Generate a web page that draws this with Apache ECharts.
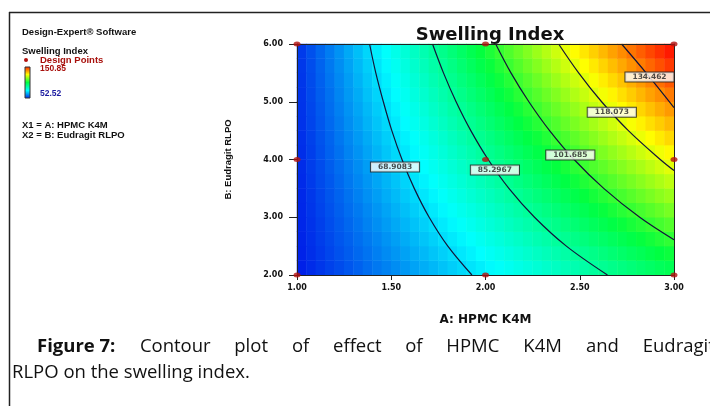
<!DOCTYPE html>
<html><head><meta charset="utf-8">
<script src="https://cdn.jsdelivr.net/npm/echarts@6/dist/echarts.min.js"></script>
<style>html,body{margin:0;padding:0;background:#fff}#c{width:710px;height:406px}</style>
</head><body><div id="c"></div>
<script>
// ---- data ----
const title = 'Swelling Index';
const xName = 'A: HPMC K4M';
const yName = 'B: Eudragit RLPO';
const legendHigh = '150.85';
const legendLow = '52.52';
const surfaceMin = 48.4;
const surfaceMax = 145.1;
// heatmap cell centres (A: HPMC K4M, B: Eudragit RLPO)
const aCenters = [1.025,1.075,1.125,1.175,1.225,1.275,1.325,1.375,1.425,1.475,1.525,1.575,1.625,1.675,1.725,1.775,1.825,1.875,1.925,1.975,
                  2.025,2.075,2.125,2.175,2.225,2.275,2.325,2.375,2.425,2.475,2.525,2.575,2.625,2.675,2.725,2.775,2.825,2.875,2.925,2.975];
const bCenters = [2.125,2.375,2.625,2.875,3.125,3.375,3.625,3.875,4.125,4.375,4.625,4.875,5.125,5.375,5.625,5.875];
// swelling index per cell, rows from B=2.125 (bottom) to B=5.875 (top)
const siRows = [
 [48.4,49.6,50.8,52.0,53.1,54.3,55.5,56.7,57.9,59.0,60.2,61.4,62.6,63.8,64.9,66.1,67.3,68.5,69.7,70.8,72.0,73.2,74.4,75.6,76.7,77.9,79.1,80.3,81.5,82.6,83.8,85.0,86.2,87.4,88.5,89.7,90.9,92.1,93.3,94.4],
 [48.6,49.9,51.1,52.4,53.7,54.9,56.2,57.4,58.7,60.0,61.2,62.5,63.8,65.0,66.3,67.5,68.8,70.1,71.3,72.6,73.9,75.1,76.4,77.6,78.9,80.2,81.4,82.7,83.9,85.2,86.5,87.7,89.0,90.3,91.5,92.8,94.0,95.3,96.6,97.8],
 [48.8,50.1,51.5,52.8,54.2,55.5,56.9,58.2,59.5,60.9,62.2,63.6,64.9,66.3,67.6,69.0,70.3,71.6,73.0,74.3,75.7,77.0,78.4,79.7,81.1,82.4,83.7,85.1,86.4,87.8,89.1,90.5,91.8,93.1,94.5,95.8,97.2,98.5,99.9,101.2],
 [49.0,50.4,51.8,53.3,54.7,56.1,57.5,59.0,60.4,61.8,63.2,64.7,66.1,67.5,68.9,70.4,71.8,73.2,74.6,76.1,77.5,78.9,80.4,81.8,83.2,84.6,86.1,87.5,88.9,90.3,91.8,93.2,94.6,96.0,97.5,98.9,100.3,101.7,103.2,104.6],
 [49.2,50.7,52.2,53.7,55.2,56.7,58.2,59.7,61.2,62.7,64.2,65.7,67.3,68.8,70.3,71.8,73.3,74.8,76.3,77.8,79.3,80.8,82.3,83.8,85.3,86.9,88.4,89.9,91.4,92.9,94.4,95.9,97.4,98.9,100.4,101.9,103.4,104.9,106.4,108.0],
 [49.3,50.9,52.5,54.1,55.7,57.3,58.9,60.5,62.1,63.7,65.2,66.8,68.4,70.0,71.6,73.2,74.8,76.4,78.0,79.5,81.1,82.7,84.3,85.9,87.5,89.1,90.7,92.3,93.9,95.4,97.0,98.6,100.2,101.8,103.4,105.0,106.6,108.2,109.8,111.3],
 [49.5,51.2,52.9,54.5,56.2,57.9,59.6,61.2,62.9,64.6,66.2,67.9,69.6,71.3,72.9,74.6,76.3,77.9,79.6,81.3,83.0,84.6,86.3,88.0,89.6,91.3,93.0,94.7,96.3,98.0,99.7,101.3,103.0,104.7,106.4,108.0,109.7,111.4,113.1,114.7],
 [49.7,51.5,53.2,55.0,56.7,58.5,60.2,62.0,63.7,65.5,67.3,69.0,70.8,72.5,74.3,76.0,77.8,79.5,81.3,83.0,84.8,86.5,88.3,90.0,91.8,93.6,95.3,97.1,98.8,100.6,102.3,104.1,105.8,107.6,109.3,111.1,112.8,114.6,116.4,118.1],
 [49.9,51.7,53.6,55.4,57.2,59.1,60.9,62.7,64.6,66.4,68.3,70.1,71.9,73.8,75.6,77.4,79.3,81.1,82.9,84.8,86.6,88.4,90.3,92.1,94.0,95.8,97.6,99.5,101.3,103.1,105.0,106.8,108.6,110.5,112.3,114.1,116.0,117.8,119.6,121.5],
 [50.1,52.0,53.9,55.8,57.8,59.7,61.6,63.5,65.4,67.3,69.3,71.2,73.1,75.0,76.9,78.8,80.8,82.7,84.6,86.5,88.4,90.4,92.3,94.2,96.1,98.0,99.9,101.9,103.8,105.7,107.6,109.5,111.4,113.4,115.3,117.2,119.1,121.0,123.0,124.9],
 [50.3,52.3,54.3,56.3,58.3,60.3,62.3,64.3,66.3,68.3,70.3,72.3,74.3,76.3,78.3,80.3,82.3,84.3,86.3,88.3,90.3,92.3,94.3,96.3,98.3,100.3,102.3,104.3,106.3,108.3,110.3,112.3,114.3,116.3,118.3,120.3,122.3,124.3,126.2,128.2],
 [50.5,52.5,54.6,56.7,58.8,60.9,62.9,65.0,67.1,69.2,71.3,73.4,75.4,77.5,79.6,81.7,83.8,85.8,87.9,90.0,92.1,94.2,96.2,98.3,100.4,102.5,104.6,106.7,108.7,110.8,112.9,115.0,117.1,119.1,121.2,123.3,125.4,127.5,129.6,131.6],
 [50.6,52.8,55.0,57.1,59.3,61.5,63.6,65.8,67.9,70.1,72.3,74.4,76.6,78.8,80.9,83.1,85.2,87.4,89.6,91.7,93.9,96.1,98.2,100.4,102.5,104.7,106.9,109.0,111.2,113.4,115.5,117.7,119.9,122.0,124.2,126.3,128.5,130.7,132.8,135.0],
 [50.8,53.1,55.3,57.6,59.8,62.0,64.3,66.5,68.8,71.0,73.3,75.5,77.8,80.0,82.3,84.5,86.7,89.0,91.2,93.5,95.7,98.0,100.2,102.5,104.7,106.9,109.2,111.4,113.7,115.9,118.2,120.4,122.7,124.9,127.2,129.4,131.6,133.9,136.1,138.4],
 [51.0,53.3,55.7,58.0,60.3,62.6,65.0,67.3,69.6,71.9,74.3,76.6,78.9,81.3,83.6,85.9,88.2,90.6,92.9,95.2,97.5,99.9,102.2,104.5,106.9,109.2,111.5,113.8,116.2,118.5,120.8,123.1,125.5,127.8,130.1,132.5,134.8,137.1,139.4,141.8],
 [51.2,53.6,56.0,58.4,60.8,63.2,65.6,68.1,70.5,72.9,75.3,77.7,80.1,82.5,84.9,87.3,89.7,92.1,94.6,97.0,99.4,101.8,104.2,106.6,109.0,111.4,113.8,116.2,118.6,121.1,123.5,125.9,128.3,130.7,133.1,135.5,137.9,140.3,142.7,145.1]
];
// contour lines [A, B]
const contour1 = [[1.385,6],[1.418,5.5],[1.458,5],[1.503,4.5],[1.557,4],[1.622,3.5],[1.701,3],[1.80,2.5],[1.928,2]];
const contour2 = [[1.719,6],[1.777,5.5],[1.844,5],[1.922,4.5],[2.014,4],[2.124,3.5],[2.260,3],[2.429,2.5],[2.647,2]];
const contour3 = [[2.054,6],[2.135,5.5],[2.230,5],[2.340,4.5],[2.470,4],[2.627,3.5],[2.818,3],[3.0,2.611]];
const contour4 = [[2.388,6],[2.494,5.5],[2.616,5],[2.758,4.5],[2.927,4],[3.0,3.808]];
const contour5 = [[2.722,6],[2.852,5.5],[3.0,4.9]];
const contourLabels = [[1.52,3.87,'68.9083'],[2.05,3.82,'85.2967'],[2.45,4.08,'101.685'],[2.67,4.82,'118.073'],[2.87,5.43,'134.462']];
// design points
const designPoints = [[1,2],[2,2],[3,2],[1,4],[2,4],[3,4],[1,6],[2,6],[3,6]];
// caption
const captionBold = 'Figure 7:';
const captionWords = ['Contour','plot','of','effect','of','HPMC','K4M','and','Eudragit'];
const captionLine2 = 'RLPO on the swelling index.';

// ---- chart ----
const heatData = [];
siRows.forEach((row, i) => row.forEach((v, j) => heatData.push([j, i, v])));
const palette = ['#0020e8', '#00ffff', '#00ff40', '#ffff00', '#ff1a00'];

const chart = echarts.init(document.getElementById('c'), null, {renderer: 'canvas'});
const lineStyle = {color: '#14143a', width: 1.2};
const contourSeries = [contour1, contour2, contour3, contour4, contour5].map(d => ({
  type: 'line', xAxisIndex: 0, yAxisIndex: 0, data: d, smooth: 0.35, symbol: 'none',
  lineStyle: lineStyle, z: 3, silent: true
}));
const tickFont = {fontFamily: 'DejaVu Sans', fontWeight: 'bold', fontSize: 8, color: '#111'};
const legendFont = 'bold 9.5px "Liberation Sans"';
const captionFont = '18.5px "Open Sans"';
const wordX = [139.9, 234.3, 291.9, 333, 405.2, 446.3, 523.3, 585.9, 642.7];

const graphics = [
  {type: 'line', shape: {x1: 9.5, y1: 12, x2: 9.5, y2: 406}, style: {stroke: '#222', lineWidth: 1.5}},
  {type: 'line', shape: {x1: 9, y1: 12.5, x2: 710, y2: 12.5}, style: {stroke: '#222', lineWidth: 1.5}},
  {type: 'text', x: 22, y: 32, style: {text: 'Design-Expert® Software', fill: '#111', font: legendFont, textVerticalAlign: 'middle'}},
  {type: 'text', x: 22, y: 51, style: {text: 'Swelling Index', fill: '#111', font: legendFont, textVerticalAlign: 'middle'}},
  {type: 'circle', shape: {cx: 26, cy: 60, r: 2}, style: {fill: '#b3120f'}},
  {type: 'text', x: 40, y: 60, style: {text: 'Design Points', fill: '#a8100c', font: legendFont, textVerticalAlign: 'middle'}},
  {type: 'text', x: 40, y: 69, style: {text: legendHigh, fill: '#a8100c', font: 'bold 8.5px "Liberation Sans"', textVerticalAlign: 'middle'}},
  {type: 'rect', shape: {x: 25, y: 67, width: 5, height: 31},
   style: {stroke: '#333', lineWidth: 1, fill: new echarts.graphic.LinearGradient(0, 0, 0, 1, [
     {offset: 0, color: palette[4]}, {offset: 0.25, color: palette[3]}, {offset: 0.5, color: palette[2]},
     {offset: 0.75, color: palette[1]}, {offset: 1, color: palette[0]}])}},
  {type: 'text', x: 40, y: 94, style: {text: legendLow, fill: '#1a1aa0', font: 'bold 8.5px "Liberation Sans"', textVerticalAlign: 'middle'}},
  {type: 'text', x: 22, y: 125, style: {text: 'X1 = A: HPMC K4M', fill: '#111', font: legendFont, textVerticalAlign: 'middle'}},
  {type: 'text', x: 22, y: 135, style: {text: 'X2 = B: Eudragit RLPO', fill: '#111', font: legendFont, textVerticalAlign: 'middle'}},
  {type: 'text', x: 37, y: 347, style: {text: captionBold, fill: '#111', font: 'bold ' + captionFont, textVerticalAlign: 'middle'}},
  {type: 'text', x: 12, y: 373, style: {text: captionLine2, fill: '#111', font: captionFont, textVerticalAlign: 'middle'}}
];
captionWords.forEach((w, i) => graphics.push(
  {type: 'text', x: wordX[i], y: 347, style: {text: w, fill: '#111', font: captionFont, textVerticalAlign: 'middle'}}));

chart.setOption({
  animation: false,
  backgroundColor: '#fff',
  title: {text: title, left: 485, top: 21, textAlign: 'center',
    textStyle: {fontFamily: 'DejaVu Sans', fontWeight: 'bold', fontSize: 18, color: '#111'}},
  grid: {left: 297, top: 44, right: 36, bottom: 131},
  xAxis: [
    {type: 'value', min: 1, max: 3, interval: 0.5, position: 'bottom', z: 5,
     name: xName, nameLocation: 'middle', nameGap: 39,
     nameTextStyle: {fontFamily: 'DejaVu Sans', fontWeight: 'bold', fontSize: 12, color: '#111'},
     axisLine: {lineStyle: {color: '#222', width: 1}},
     axisTick: {length: 5, lineStyle: {color: '#222'}},
     splitLine: {show: false},
     axisLabel: Object.assign({margin: 9, formatter: v => v.toFixed(2)}, tickFont)},
    {type: 'category', data: aCenters, position: 'top', z: 5,
     axisLine: {show: true, lineStyle: {color: '#222', width: 1}},
     axisTick: {show: false}, axisLabel: {show: false}, splitLine: {show: false}}
  ],
  yAxis: [
    {type: 'value', min: 2, max: 6, interval: 1, position: 'left', z: 5,
     name: yName, nameLocation: 'middle', nameGap: 64, nameRotate: 90,
     nameTextStyle: {fontFamily: 'Liberation Sans', fontWeight: 'bold', fontSize: 9.5, color: '#111'},
     axisLine: {show: true, lineStyle: {color: '#222', width: 1}},
     axisTick: {show: true, length: 8, lineStyle: {color: '#222'}},
     splitLine: {show: false},
     axisLabel: Object.assign({margin: 14, formatter: v => v.toFixed(2)}, tickFont)},
    {type: 'category', data: bCenters, position: 'right', z: 5,
     axisLine: {show: true, lineStyle: {color: '#222', width: 1}},
     axisTick: {show: false}, axisLabel: {show: false}, splitLine: {show: false}}
  ],
  visualMap: {type: 'continuous', show: false, min: surfaceMin, max: surfaceMax, dimension: 2, seriesIndex: 0,
    inRange: {color: palette}},
  series: [
    {type: 'heatmap', xAxisIndex: 1, yAxisIndex: 1, data: heatData, z: 1, silent: true,
     itemStyle: {borderWidth: 0}, emphasis: {disabled: true}},
    ...contourSeries,
    {type: 'scatter', xAxisIndex: 0, yAxisIndex: 0, symbolSize: 0, z: 4, silent: true,
     data: contourLabels.map(d => ({value: [d[0], d[1]], name: d[2]})),
     label: {show: true, position: 'inside', formatter: p => p.name,
       fontFamily: 'DejaVu Sans', fontWeight: 'bold', fontSize: 7.5, color: '#222',
       backgroundColor: '#fff', borderColor: '#222', borderWidth: 1, padding: [1, 7, 0, 7], lineHeight: 8}},
    {type: 'scatter', xAxisIndex: 0, yAxisIndex: 0, data: designPoints, clip: false, z: 6, silent: true,
     symbol: 'circle', symbolSize: [7, 5], itemStyle: {color: '#b3120f'}}
  ],
  graphic: graphics
});
</script></body></html>
